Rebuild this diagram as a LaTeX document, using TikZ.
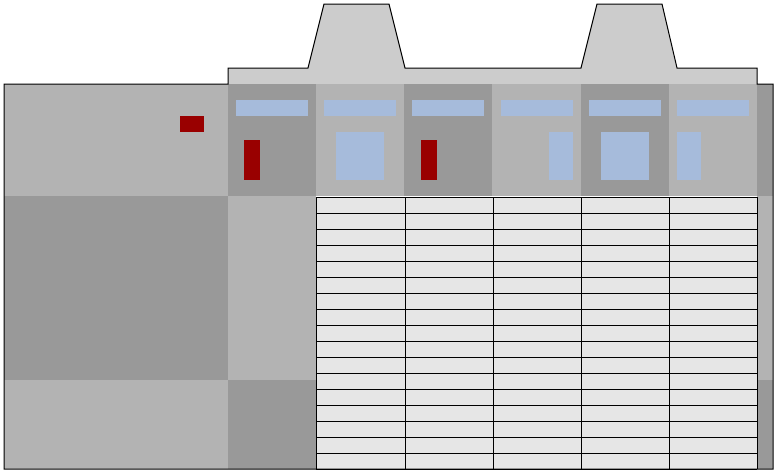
\documentclass[tikz,border=0pt]{standalone}
\definecolor{gA}{HTML}{B3B3B3}
\definecolor{gB}{HTML}{999999}
\definecolor{gC}{HTML}{CCCCCC}
\definecolor{gT}{HTML}{E6E6E6}
\definecolor{bl}{HTML}{A6BBDB}
\definecolor{rd}{HTML}{990000}
\tikzset{
  light/.style={fill=gA},
  dark/.style={fill=gB},
  band/.style={fill=gC},
  bluebox/.style={fill=bl},
  redbox/.style={fill=rd},
  outline/.style={draw=black,line width=1pt,line join=miter},
  grid line/.style={draw=black,line width=1pt}
}
\begin{document}
\begin{tikzpicture}[x=1pt,y=-1pt]
\useasboundingbox (0,0) rectangle (778,474);
% top band and towers
\path[band] (228,84) -- (228,68) -- (308,68) -- (324,4) -- (389,4) -- (405,68)
  -- (581,68) -- (597,4) -- (662,4) -- (677,68) -- (757,68) -- (757,84) -- cycle;
% left block
\path[light] (4,84) rectangle (228,196);
\path[dark] (4,196) rectangle (228,380);
\path[light] (4,380) rectangle (228,469);
% second column
\path[dark] (228,84) rectangle (316,196);
\path[light] (228,196) rectangle (316,380);
\path[dark] (228,380) rectangle (316,469);
% header columns
\path[light] (316,84) rectangle (404,196);
\path[dark] (404,84) rectangle (492,196);
\path[light] (492,84) rectangle (581,196);
\path[dark] (581,84) rectangle (669,196);
\path[light] (669,84) rectangle (757,196);
% right strip
\path[dark] (757,84) rectangle (773,196);
\path[light] (757,196) rectangle (773,380);
\path[dark] (757,380) rectangle (773,469);
% blue header bars
\foreach \a/\b in {236/308,324/396,412/484,501/573,589/661,677/749}
  \path[bluebox] (\a,100) rectangle (\b,116);
% blue boxes
\path[bluebox] (336,132) rectangle (384,180);
\path[bluebox] (549,132) rectangle (573,180);
\path[bluebox] (601,132) rectangle (649,180);
\path[bluebox] (677,132) rectangle (701,180);
% red boxes
\path[redbox] (180,116) rectangle (204,132);
\path[redbox] (244,140) rectangle (260,180);
\path[redbox] (421,140) rectangle (437,180);
% table
\path[fill=gT] (316,197) rectangle (757,469);
\foreach \i in {0,...,17}
  \draw[grid line] (316,{197+16*\i}) -- (757,{197+16*\i});
\foreach \x in {316,405,493,581,669,757}
  \draw[grid line] (\x,197) -- (\x,469);
% outline
\draw[outline] (4,84) -- (228,84) -- (228,68) -- (308,68) -- (324,4) -- (389,4) -- (405,68)
  -- (581,68) -- (597,4) -- (662,4) -- (677,68) -- (757,68) -- (757,84) -- (773,84)
  -- (773,469) -- (4,469) -- cycle;
\end{tikzpicture}
\end{document}
